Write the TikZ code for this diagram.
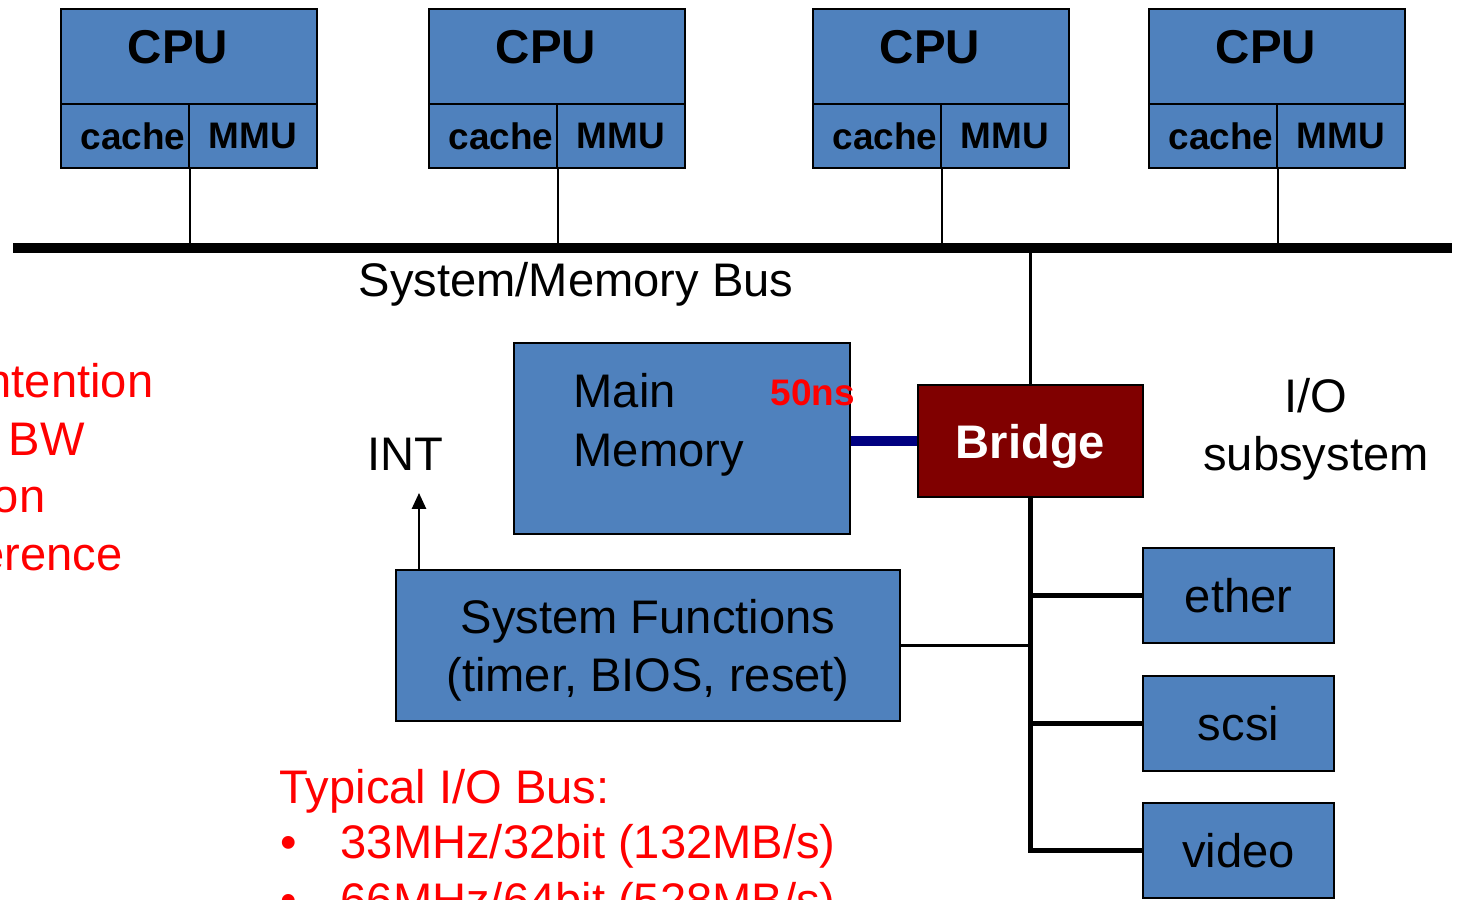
\documentclass[tikz,border=0pt]{standalone}
\usepackage{fontspec}
\setmainfont{Liberation Sans}
\usetikzlibrary{arrows.meta,calc}
\definecolor{boxblue}{RGB}{79,129,189}
\definecolor{bridgered}{RGB}{128,0,0}
\definecolor{linknavy}{RGB}{0,0,128}
\definecolor{notered}{RGB}{255,0,0}
\newcommand{\bodyfont}{\fontsize{13.4}{16.6}\selectfont}
\newcommand{\partfont}{\bfseries\fontsize{10.5}{12}\selectfont}
\tikzset{
  box/.style={
    draw=black,
    line width=0.6pt,
    fill=boxblue,
    inner sep=0pt
  },
  box-cpu/.style={box, minimum width=2.56cm, minimum height=0.95cm},
  box-part/.style={box, minimum width=1.28cm, minimum height=0.64cm, font=\partfont},
  box-dev/.style={box, minimum width=1.91cm, minimum height=0.95cm, font=\bodyfont},
  bus-main/.style={line width=2.9pt},
  bus-io/.style={line width=1.2pt},
  wire/.style={line width=0.6pt},
  note-red/.style={text=notered, font=\bodyfont, inner sep=0pt}
}

\begin{document}
\begin{tikzpicture}[x=0.01cm, y=-0.01cm]
  \useasboundingbox (0,0) rectangle (1457,900);
  \clip (0,0) rectangle (1457,900);
  % System/Memory bus
  \coordinate (busL) at (13,248);
  \coordinate (busR) at (1452,248);
  \draw[bus-main] (busL) -- (busR);
  \node[font=\bodyfont] (buslbl) at (576,284) {System/Memory Bus};
  % Processors
  \foreach \x/\n in {61/1,429/2,813/3,1149/4}{
    \node[box-cpu] (cpu\n) at (\x+128,56.5) {};
    \node[font=\bfseries\fontsize{13.5}{16}\selectfont] (cpulbl\n) at (\x+117,47) {CPU};
    \node[box-part] (cache\n) at (\x+64,136) {};
    \node[font=\partfont] (cachelbl\n) at (\x+72,136) {cache};
    \node[box-part] (mmu\n) at (\x+192,136) {MMU};
    \draw[wire] (cache\n.south east) -- (cache\n.south east |- busL);
  }
  % Memory and bridge
  \node[box, minimum width=3.36cm, minimum height=1.91cm] (mem) at (682,438.5) {};
  \node[font=\bodyfont, anchor=base west, inner sep=0pt] (memlbl1) at (573,407) {Main};
  \node[font=\bodyfont, anchor=base west, inner sep=0pt] (memlbl2) at (573,466) {Memory};
  \node[note-red, font=\bfseries\fontsize{10.5}{12}\selectfont] (memtime) at (813,393) {50ns};
  \node[box, fill=bridgered, minimum width=2.25cm, minimum height=1.12cm, text depth=0pt,
        text=white, font=\bfseries\fontsize{13.4}{16}\selectfont] (bridge) at (1030.5,441) {Bridge};
  \draw[bus-main, linknavy] (bridge.west) -- (bridge.west -| mem.east);
  \draw[wire] (bridge.north) -- (bridge.north |- busL);
  \node[font=\bodyfont, anchor=base] (iolbl1) at (1316,412) {I/O};
  \node[font=\bodyfont, anchor=base] (iolbl2) at (1316,470) {subsystem};
  % Interrupt
  \node[font=\bodyfont, anchor=base] (intlbl) at (405,470) {INT};
  \node[box, minimum width=5.04cm, minimum height=1.51cm, align=center, text depth=0pt, font=\bodyfont]
    (sysfn) at (648,645.5) {System Functions\\(timer, BIOS, reset)};
  \coordinate (inttip) at (419,493);
  \draw[wire, -{Triangle[length=4.5pt,width=4pt]}] (inttip |- sysfn.north) -- (inttip);
  % I/O bus
  \node[box-dev] (ether) at (1238.5,595.5) {ether};
  \node[box-dev] (scsi) at (1238.5,723.5) {scsi};
  \node[box-dev] (video) at (1238.5,850.5) {video};
  \draw[bus-io] (bridge.south) |- (video.west);
  \draw[bus-io] (bridge.south |- ether.west) -- (ether.west);
  \draw[bus-io] (bridge.south |- scsi.west) -- (scsi.west);
  \draw[wire] (sysfn.east) -- ($(bridge.south |- sysfn.east)+(-3,0)$);
  % Notes
  \node[note-red, anchor=base east] (note1) at (154,397) {ntention};
  \node[note-red, anchor=base west] (note2) at (8,455) {BW};
  \node[note-red, anchor=base east] (note3) at (46,512) {on};
  \node[note-red, anchor=base east] (note4) at (123,570) {erence};
  \node[note-red, anchor=base west] (bustype) at (279,803) {Typical I/O Bus:};
  \node[note-red, anchor=base west] (dot1) at (280,858) {\textbullet};
  \node[note-red, anchor=base west] (speed1) at (340,858) {33MHz/32bit (132MB/s)};
  \node[note-red, anchor=base west] (dot2) at (280,916) {\textbullet};
  \node[note-red, anchor=base west] (speed2) at (340,916) {66MHz/64bit (528MB/s)};
\end{tikzpicture}
\end{document}
